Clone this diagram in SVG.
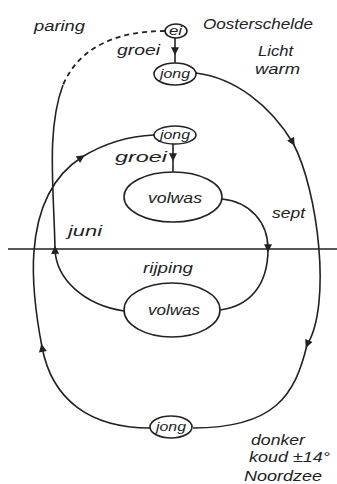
<svg xmlns="http://www.w3.org/2000/svg" width="337" height="484" viewBox="0 0 337 484">
<style>
.ln{fill:none;stroke:#222;stroke-width:1.6}
.dash{fill:none;stroke:#222;stroke-width:1.8;stroke-dasharray:5 4}
.nd{fill:#fff;stroke:#222;stroke-width:1.6}
.t{font-family:"Liberation Sans",Arial,sans-serif;font-style:italic;font-size:14px;fill:#222}
.tn{font-family:"Liberation Sans",Arial,sans-serif;font-style:italic;font-size:12px;fill:#222}
.tv{font-family:"Liberation Sans",Arial,sans-serif;font-style:italic;font-size:15px;fill:#222}
</style>
<defs>
<marker id="ar" viewBox="0 0 10 10" refX="6" refY="5" markerUnits="userSpaceOnUse" markerWidth="10" markerHeight="8" orient="auto">
<path d="M0,0 L10,5 L0,10 z" fill="#222"/>
</marker>
</defs>
<rect width="337" height="484" fill="#fff"/>
<g id="connectors">
<line class="ln" x1="8" y1="249" x2="337" y2="249"/>
<path class="dash" d="M165 31 C120 31 80 45 63 85"/>
<path class="ln" marker-mid="url(#ar)" d="M124 311 C85 305 56 280 55 249 C54 190 46 130 63 85"/>
<path class="ln" marker-mid="url(#ar)" d="M222 199 C250 202 268 222 268 249 C268 285 250 306 220 310"/>
<path class="ln" marker-mid="url(#ar)" d="M196 73 C235 78 270 105 293 143 C318 190 332 305 307 345 C295 395 275 428 193 428"/>
<path class="ln" marker-mid="url(#ar)" d="M150 428 C90 428 52 400 42 347 C34 305 15 200 82 157 C105 143 130 136 154 135"/>
<path class="ln" marker-mid="url(#ar)" d="M175 38 L175 52 L175 63"/>
<path class="ln" marker-mid="url(#ar)" d="M173 144 L173 158 L173 172"/>
</g>
<g id="ei"><ellipse class="nd" cx="176" cy="31" rx="11" ry="7"/><text class="tn" x="169" y="35" textLength="13" lengthAdjust="spacingAndGlyphs">ei</text></g>
<g id="jong-top"><ellipse class="nd" cx="175" cy="74" rx="21" ry="11"/><text class="tn" x="160" y="78" textLength="30" lengthAdjust="spacingAndGlyphs">jong</text></g>
<g id="jong-mid"><ellipse class="nd" cx="175" cy="135" rx="21" ry="9"/><text class="tn" x="160" y="139" textLength="30" lengthAdjust="spacingAndGlyphs">jong</text></g>
<g id="volwas-up"><ellipse class="nd" cx="173" cy="197" rx="49" ry="25"/><text class="tv" x="148" y="203" textLength="54" lengthAdjust="spacingAndGlyphs">volwas</text></g>
<g id="volwas-low"><ellipse class="nd" cx="172" cy="310" rx="48" ry="27"/><text class="tv" x="148" y="315" textLength="52" lengthAdjust="spacingAndGlyphs">volwas</text></g>
<g id="jong-bottom"><ellipse class="nd" cx="171" cy="427" rx="21" ry="11"/><text class="tn" x="156" y="431" textLength="30" lengthAdjust="spacingAndGlyphs">jong</text></g>
<g id="labels">
<text class="t" x="34" y="31" textLength="51" lengthAdjust="spacingAndGlyphs">paring</text>
<text class="t" x="203" y="29" textLength="110" lengthAdjust="spacingAndGlyphs">Oosterschelde</text>
<text class="t" x="117" y="55" textLength="43" lengthAdjust="spacingAndGlyphs">groei</text>
<text class="t" x="258" y="56" textLength="35" lengthAdjust="spacingAndGlyphs">Licht</text>
<text class="t" x="255" y="74" textLength="45" lengthAdjust="spacingAndGlyphs">warm</text>
<text class="t" x="115" y="162" textLength="52" lengthAdjust="spacingAndGlyphs">groei</text>
<text class="t" x="272" y="218" textLength="33" lengthAdjust="spacingAndGlyphs">sept</text>
<text class="t" x="68" y="236" textLength="34" lengthAdjust="spacingAndGlyphs">juni</text>
<text class="t" x="143" y="273" textLength="50" lengthAdjust="spacingAndGlyphs">rijping</text>
<text class="t" x="251" y="445" textLength="54" lengthAdjust="spacingAndGlyphs">donker</text>
<text class="t" x="249" y="462" textLength="81" lengthAdjust="spacingAndGlyphs">koud ±14°</text>
<text class="t" x="244" y="481" textLength="78" lengthAdjust="spacingAndGlyphs">Noordzee</text>
</g>
</svg>
